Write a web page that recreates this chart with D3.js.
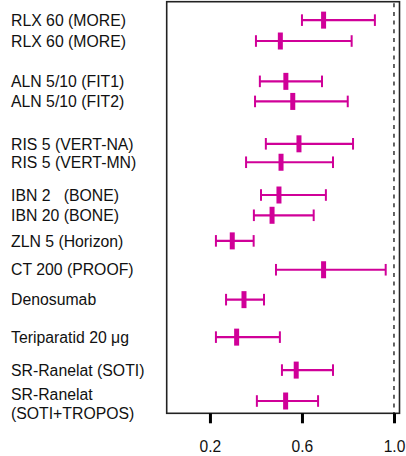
<!DOCTYPE html>
<html>
<head>
<meta charset="utf-8">
<script src="https://cdn.jsdelivr.net/npm/d3@7"></script>
<style>
  html, body { margin: 0; padding: 0; background: #fff; }
  svg { display: block; }
  text { font-family: "Liberation Sans", Arial, Helvetica, sans-serif; fill: #111; }
</style>
</head>
<body>
<svg id="chart" width="406" height="456"></svg>
<script>
// ---- data ----
const labels = [
  ["RLX 60 (MORE)"],
  ["RLX 60 (MORE)"],
  ["ALN 5/10 (FIT1)"],
  ["ALN 5/10 (FIT2)"],
  ["RIS 5 (VERT-NA)"],
  ["RIS 5 (VERT-MN)"],
  ["IBN 2   (BONE)"],
  ["IBN 20 (BONE)"],
  ["ZLN 5 (Horizon)"],
  ["CT 200 (PROOF)"],
  ["Denosumab"],
  ["Teriparatid 20 \u03bcg"],
  ["SR-Ranelat (SOTI)"],
  ["SR-Ranelat", "(SOTI+TROPOS)"]
];
// row position on the vertical axis (top = larger)
const rowPos = [18.6, 17.58, 15.61, 14.63, 12.56, 11.66, 10.06, 9.07, 7.82, 6.41, 4.95, 3.12, 1.51, 0];
const estimate = [0.694, 0.506, 0.530, 0.560, 0.587, 0.509, 0.500, 0.470, 0.297, 0.694, 0.348, 0.316, 0.575, 0.529];
const lower    = [0.600, 0.400, 0.417, 0.396, 0.443, 0.357, 0.422, 0.391, 0.226, 0.487, 0.270, 0.226, 0.513, 0.404];
const upper    = [0.917, 0.816, 0.687, 0.799, 0.822, 0.735, 0.704, 0.651, 0.390, 0.964, 0.435, 0.504, 0.735, 0.670];
const tickValues = [0.2, 0.6, 1.0];
const tickLabels = ["0.2", "0.6", "1.0"];
const refValue = 1.0;

const rows = labels.map((l, i) => ({ label: l, pos: rowPos[i], est: estimate[i], lo: lower[i], hi: upper[i] }));

// ---- layout ----
const color = "#d00098";
const svg = d3.select("#chart");
const mLeft = 166.7, mRight = 399.5, mTop = 1.7, mBottom = 413.3;

const x = d3.scaleLinear().domain([0.012, 1.024]).range([mLeft, mRight]);
const y = d3.scaleLinear().domain([-0.6, 19.5]).range([mBottom, mTop]);

// reference dashed line
svg.append("line")
  .attr("x1", x(refValue)).attr("x2", x(refValue))
  .attr("y1", mTop).attr("y2", mBottom)
  .attr("stroke", "#333").attr("stroke-width", 1.5)
  .attr("stroke-dasharray", "4,4.7")
  .attr("stroke-dashoffset", -1.5);

// frame
svg.append("rect")
  .attr("x", mLeft).attr("y", mTop)
  .attr("width", mRight - mLeft).attr("height", mBottom - mTop)
  .attr("fill", "none").attr("stroke", "#222").attr("stroke-width", 1.6);

// axis
const axis = d3.axisBottom(x)
  .tickValues(tickValues)
  .tickFormat((d, i) => tickLabels[i])
  .tickSize(10)
  .tickPadding(18);
const gAxis = svg.append("g").attr("transform", `translate(0,${mBottom})`).call(axis);
gAxis.select(".domain").remove();
gAxis.selectAll(".tick line").attr("stroke", "#000").attr("stroke-width", 3);
gAxis.selectAll(".tick text")
  .attr("font-family", "'Liberation Sans', Arial, sans-serif")
  .attr("font-size", "15.6px").attr("fill", "#111");

// error bars
const g = svg.append("g");
const row = g.selectAll("g.row").data(rows).enter().append("g").attr("class", "row");

row.append("line")
  .attr("x1", d => x(d.lo)).attr("x2", d => x(d.hi))
  .attr("y1", d => y(d.pos)).attr("y2", d => y(d.pos))
  .attr("stroke", color).attr("stroke-width", 2.2);

row.append("line")
  .attr("x1", d => x(d.lo)).attr("x2", d => x(d.lo))
  .attr("y1", d => y(d.pos) - 5.8).attr("y2", d => y(d.pos) + 5.8)
  .attr("stroke", color).attr("stroke-width", 2);

row.append("line")
  .attr("x1", d => x(d.hi)).attr("x2", d => x(d.hi))
  .attr("y1", d => y(d.pos) - 5.8).attr("y2", d => y(d.pos) + 5.8)
  .attr("stroke", color).attr("stroke-width", 2);

row.append("rect")
  .attr("x", d => x(d.est) - 2.5).attr("width", 5)
  .attr("y", d => y(d.pos) - 8.5).attr("height", 17)
  .attr("fill", color);

// labels
const lab = svg.append("g").selectAll("text").data(rows).enter().append("text")
  .attr("x", 11)
  .attr("y", d => y(d.pos))
  .attr("font-size", "15.8px")
  .style("white-space", "pre")
  .attr("xml:space", "preserve");

lab.each(function(d) {
  const t = d3.select(this);
  if (d.label.length === 1) {
    t.append("tspan").attr("x", 11).attr("dy", "0.36em").text(d.label[0]);
  } else {
    t.append("tspan").attr("x", 11).attr("dy", -7 + 5.6).text(d.label[0]);
    t.append("tspan").attr("x", 11).attr("dy", 19).text(d.label[1]);
  }
});
</script>
</body>
</html>
